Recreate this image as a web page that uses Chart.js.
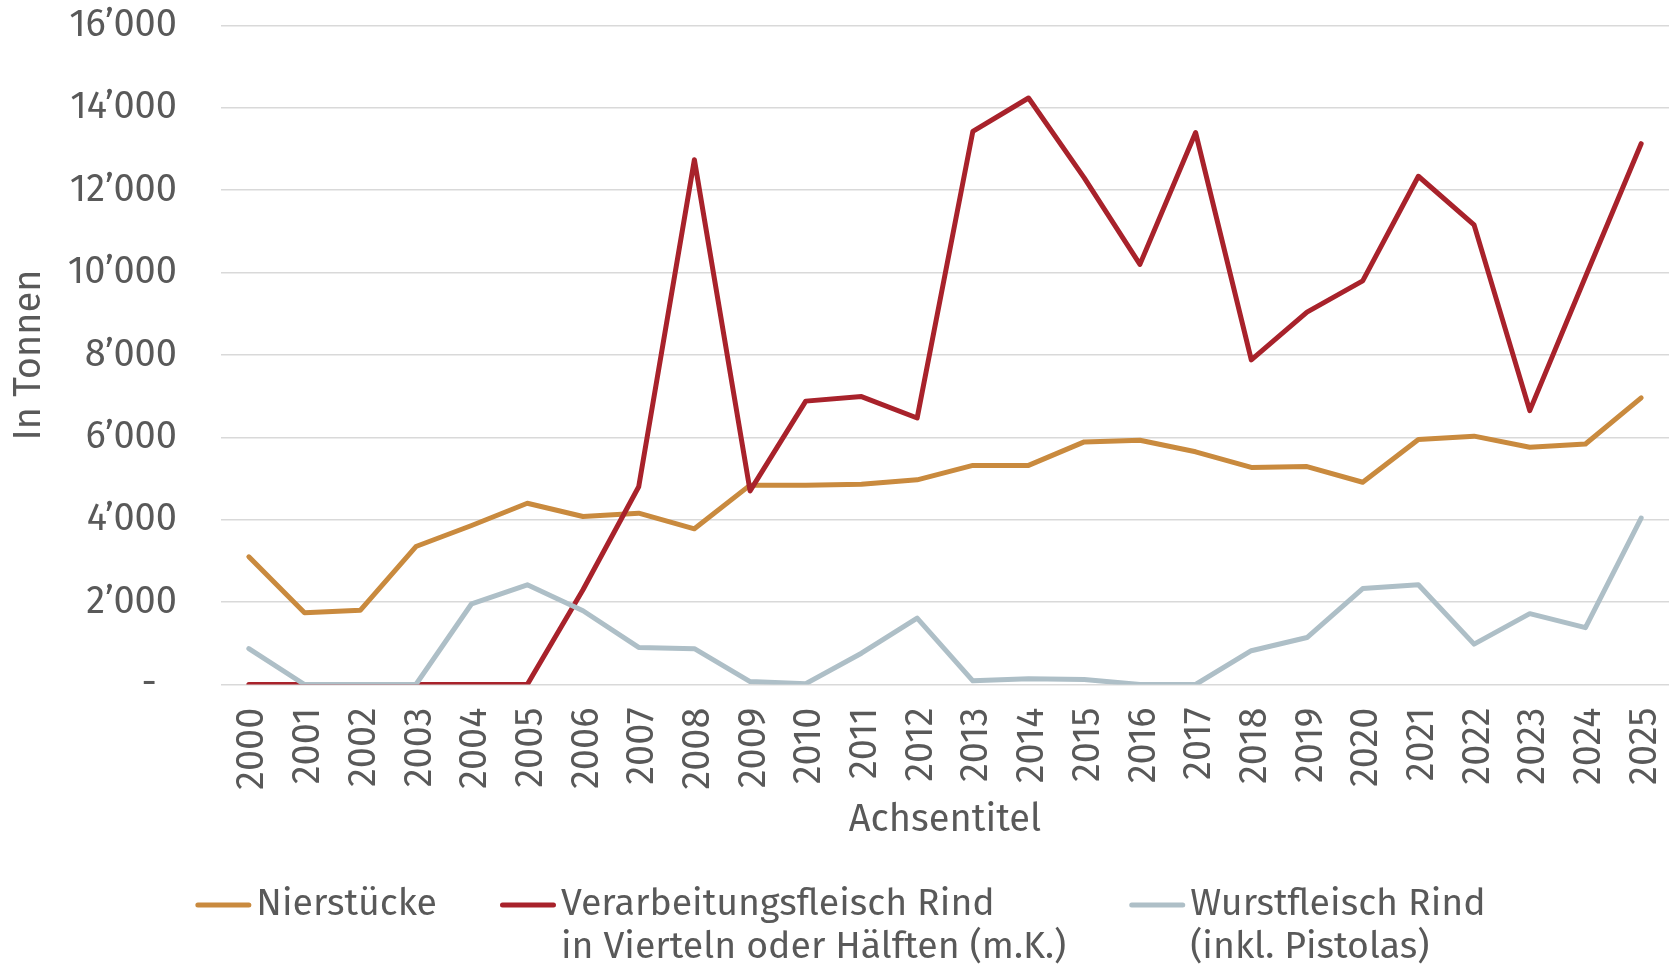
<!DOCTYPE html>
<html>
<head>
<meta charset="utf-8">
<script src="https://cdn.jsdelivr.net/npm/chart.js@4.4.1/dist/chart.umd.min.js"></script>
<style>
  html, body { margin: 0; padding: 0; background: #ffffff; }
  #wrap { width: 1675px; height: 967px; }
</style>
</head>
<body>
<div id="wrap"><canvas id="c" width="1675" height="967"></canvas></div>
<script>
const years = ['2000','2001','2002','2003','2004','2005','2006','2007','2008','2009','2010','2011','2012',
               '2013','2014','2015','2016','2017','2018','2019','2020','2021','2022','2023','2024','2025'];

const nierstuecke = [3100, 1740, 1800, 3350, 3860, 4400, 4080, 4160, 3780, 4840, 4840, 4860, 4970,
                     5320, 5320, 5890, 5930, 5650, 5270, 5290, 4910, 5950, 6030, 5760, 5840, 6960];

const verarbeitungsfleisch = [0, 0, 0, 0, 0, 0, 2300, 4800, 12740, 4700, 6880, 6990, 6470,
                              13430, 14240, 12300, 10200, 13400, 7880, 9040, 9800, 12340, 11160, 6650, 9900, 13130];

const wurstfleisch = [870, 0, 0, 0, 1960, 2420, 1790, 900, 870, 70, 20, 760, 1610,
                      90, 140, 120, 0, 0, 820, 1140, 2330, 2420, 980, 1720, 1380, 4040];

const seriesLabels = [
  ['Nierstücke'],
  ['Verarbeitungsfleisch Rind', 'in Vierteln oder Hälften (m.K.)'],
  ['Wurstfleisch Rind', '(inkl. Pistolas)']
];

const yTicks = { min: 0, max: 16000, step: 2000 };
const yTitle = 'In Tonnen';
const xTitle = 'Achsentitel';

const TEXT = '#595959';
const FONT = '"Fira Sans", "Open Sans", sans-serif';

function fmt(v) {
  if (v === 0) return '-  ';
  return String(v).replace(/\B(?=(\d{3})+(?!\d))/g, '\u2019');
}

const legendPlugin = {
  id: 'customLegend',
  afterDraw(chart) {
    const ctx = chart.ctx;
    ctx.save();
    ctx.font = '37.5px ' + FONT;
    const symW = 56, gapSym = 5, gapItem = 63, lineH = 43;
    const items = chart.data.datasets.map((ds, i) => {
      const lines = seriesLabels[i];
      const tw = Math.max(...lines.map(l => ctx.measureText(l).width));
      return { ds, lines, w: symW + gapSym + tw };
    });
    const total = items.reduce((s, it) => s + it.w, 0) + gapItem * (items.length - 1);
    let x = (chart.width - total) / 2 + 3;
    const y0 = chart.height - chart.options.layout.padding.bottom + 65;
    items.forEach(it => {
      ctx.strokeStyle = it.ds.borderColor;
      ctx.lineWidth = 5;
      ctx.lineCap = 'round';
      ctx.beginPath();
      ctx.moveTo(x + 2.5, y0);
      ctx.lineTo(x + symW - 2.5, y0);
      ctx.stroke();
      ctx.fillStyle = TEXT;
      ctx.textAlign = 'left';
      ctx.textBaseline = 'middle';
      it.lines.forEach((l, j) => ctx.fillText(l, x + symW + gapSym, y0 + j * lineH));
      x += it.w + gapItem;
    });
    ctx.restore();
  }
};

const mk = (data, color, order, i) => ({
  label: seriesLabels[i].join(' '),
  data,
  borderColor: color,
  backgroundColor: color,
  borderWidth: 5,
  pointRadius: 0,
  pointHoverRadius: 0,
  tension: 0,
  fill: false,
  borderCapStyle: 'round',
  borderJoinStyle: 'round',
  order
});

new Chart(document.getElementById('c'), {
  type: 'line',
  data: {
    labels: years,
    datasets: [
      mk(nierstuecke, '#C98A3E', 3, 0),
      mk(verarbeitungsfleisch, '#A8222B', 2, 1),
      mk(wurstfleisch, '#AEBFC7', 1, 2)
    ]
  },
  options: {
    responsive: false,
    animation: false,
    devicePixelRatio: 1,
    layout: { padding: { top: 25.5, left: 0, right: 6, bottom: 127 } },
    plugins: { legend: { display: false }, tooltip: { enabled: false } },
    scales: {
      x: {
        type: 'category',
        offset: true,
        afterFit: s => { s.height = 155.5; s.paddingLeft = 0; s.paddingRight = 0; s.paddingTop = 0; s.paddingBottom = 0; },
        grid: { display: false, drawTicks: false },
        border: { display: false },
        ticks: {
          autoSkip: false, minRotation: 90, maxRotation: 90, padding: 23, labelOffset: 4,
          color: TEXT, font: { family: FONT, size: 38 }
        },
        title: { display: true, text: xTitle, color: TEXT, font: { family: FONT, size: 38, lineHeight: 1.05 }, padding: { top: 0, bottom: 0 } }
      },
      y: {
        min: yTicks.min, max: yTicks.max,
        afterFit: s => { s.width = 221; s.paddingLeft = 0; s.paddingRight = 0; s.paddingTop = 0; s.paddingBottom = 0; },
        grid: { color: '#D9D9D9', lineWidth: 1.6, drawTicks: false },
        border: { display: false },
        ticks: {
          stepSize: yTicks.step, padding: 44, color: TEXT,
          font: { family: FONT, size: 38 },
          callback: v => fmt(v)
        },
        title: { display: true, text: yTitle, color: TEXT, font: { family: FONT, size: 38 }, padding: { top: 7, bottom: 0 } }
      }
    }
  },
  plugins: [legendPlugin]
});
</script>
</body>
</html>
